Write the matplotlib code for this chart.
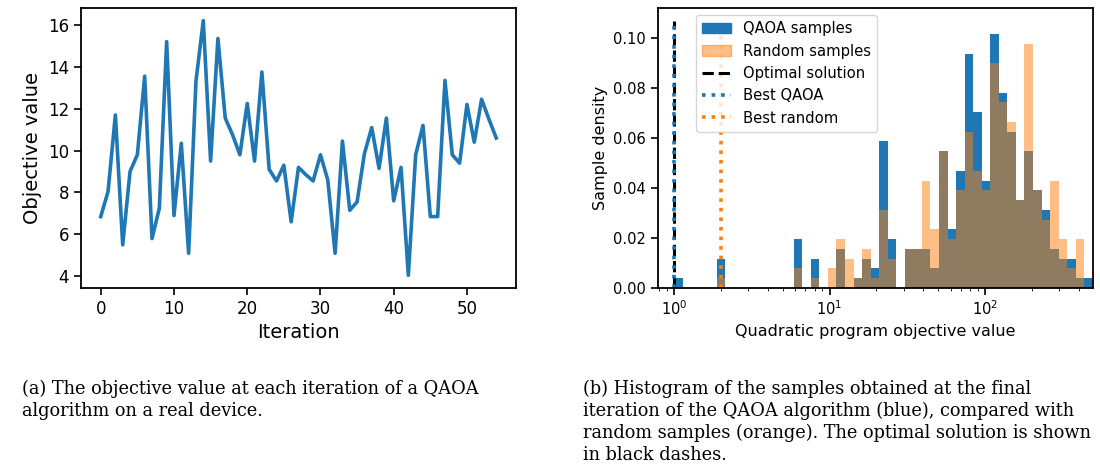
import numpy as np
import matplotlib
matplotlib.use("Agg")
import matplotlib.pyplot as plt
from matplotlib.patches import Patch
from matplotlib.lines import Line2D

# (a) objective value per iteration
objective = [6.85, 8.05, 11.7, 5.5, 9.0, 9.8, 13.55, 5.8, 7.25, 15.2,
             6.9, 10.35, 5.1, 13.3, 16.2, 9.5, 15.35, 11.55, 10.75, 9.8,
             12.25, 9.5, 13.75, 9.1, 8.55, 9.3, 6.6, 9.2, 8.85, 8.55,
             9.8, 8.6, 5.1, 10.45, 7.15, 7.55, 9.85, 11.1, 9.15, 11.55,
             7.6, 9.2, 4.05, 9.8, 11.2, 6.85, 6.85, 13.35, 9.8, 9.4,
             12.2, 10.4, 12.45, 11.5, 10.6]
iterations = np.arange(len(objective))

# (b) histogram: 49 log-spaced bins from 1 to ~493, counts out of 256 shots
n_shots = 256
x_min, x_max = 1.0, 493.0
n_bins = 49
qaoa_counts = [1, 0, 0, 0, 0, 3, 0, 0, 0, 0,
               0, 0, 0, 0, 5, 0, 3, 0, 0, 4,
               0, 1, 3, 2, 15, 5, 0, 4, 4, 4,
               2, 14, 6, 12, 24, 18, 11, 26, 20, 16,
               9, 14, 10, 8, 4, 3, 3, 1, 1]
random_counts = [0, 0, 0, 0, 0, 1, 0, 0, 0, 0,
                 0, 0, 0, 0, 2, 0, 1, 0, 2, 5,
                 3, 1, 4, 1, 8, 3, 0, 4, 4, 11,
                 6, 14, 5, 10, 16, 12, 10, 23, 19, 17,
                 9, 25, 10, 7, 11, 5, 2, 5, 0]
optimal_value = 1.0
best_qaoa = 1.0
best_random = 2.0

edges = np.logspace(np.log10(x_min), np.log10(x_max), n_bins + 1)
centers = np.sqrt(edges[:-1] * edges[1:])
qaoa_density = np.array(qaoa_counts) / n_shots
random_density = np.array(random_counts) / n_shots

fig = plt.figure(figsize=(11, 4.66), dpi=100)

# left panel
ax1 = fig.add_axes([0.0736, 0.382, 0.3955, 0.601])
ax1.plot(iterations, objective, color="C0", lw=2.6)
ax1.set_xlabel("Iteration", fontsize=14)
ax1.set_ylabel("Objective value", fontsize=14)
ax1.set_xticks(range(0, 51, 10))
ax1.set_yticks(range(4, 17, 2))
ax1.tick_params(labelsize=12, width=1.2, length=5)
for s in ax1.spines.values():
    s.set_linewidth(1.3)

# right panel
ax2 = fig.add_axes([0.598, 0.382, 0.3955, 0.601])
ax2.hist(centers, bins=edges, weights=qaoa_density, color="C0")
ax2.hist(centers, bins=edges, weights=random_density, color="C1", alpha=0.5)
line_top = 1.05 * max(qaoa_density.max(), random_density.max())
ax2.vlines(optimal_value, 0, line_top, colors="black", linestyles="--", lw=2.2)
ax2.vlines(best_qaoa, 0, line_top, colors="C0", linestyles=":", lw=2.6)
ax2.vlines(best_random, 0, line_top, colors="C1", linestyles=":", lw=2.6)
ax2.set_xscale("log")
ax2.set_xlim(0.786, x_max)
ax2.set_xlabel("Quadratic program objective value", fontsize=11.5)
ax2.set_ylabel("Sample density", fontsize=11.5)
ax2.tick_params(labelsize=10.5, width=1.2)
ax2.tick_params(which="major", length=5)
for s in ax2.spines.values():
    s.set_linewidth(1.3)

handles = [Patch(color="C0"), Patch(color="C1", alpha=0.5),
           Line2D([], [], color="black", ls="--", lw=2.2),
           Line2D([], [], color="C0", ls=":", lw=2.6),
           Line2D([], [], color="C1", ls=":", lw=2.6)]
labels = ["QAOA samples", "Random samples", "Optimal solution", "Best QAOA", "Best random"]
ax2.legend(handles, labels, loc="upper left", bbox_to_anchor=(0.07, 1.0),
           fontsize=10.6)

# captions
cap = dict(family="DejaVu Serif", fontsize=12.8, va="center", ha="left")
cap_a = ["(a) The objective value at each iteration of a QAOA",
         "algorithm on a real device."]
cap_b = ["(b) Histogram of the samples obtained at the final",
         "iteration of the QAOA algorithm (blue), compared with",
         "random samples (orange). The optimal solution is shown",
         "in black dashes."]
for i, line in enumerate(cap_a):
    fig.text(22 / 1100, 1 - (389 + 22 * i) / 466, line, **cap)
for i, line in enumerate(cap_b):
    fig.text(583 / 1100, 1 - (389 + 22 * i) / 466, line, **cap)

fig.savefig("out.png", dpi=100)
